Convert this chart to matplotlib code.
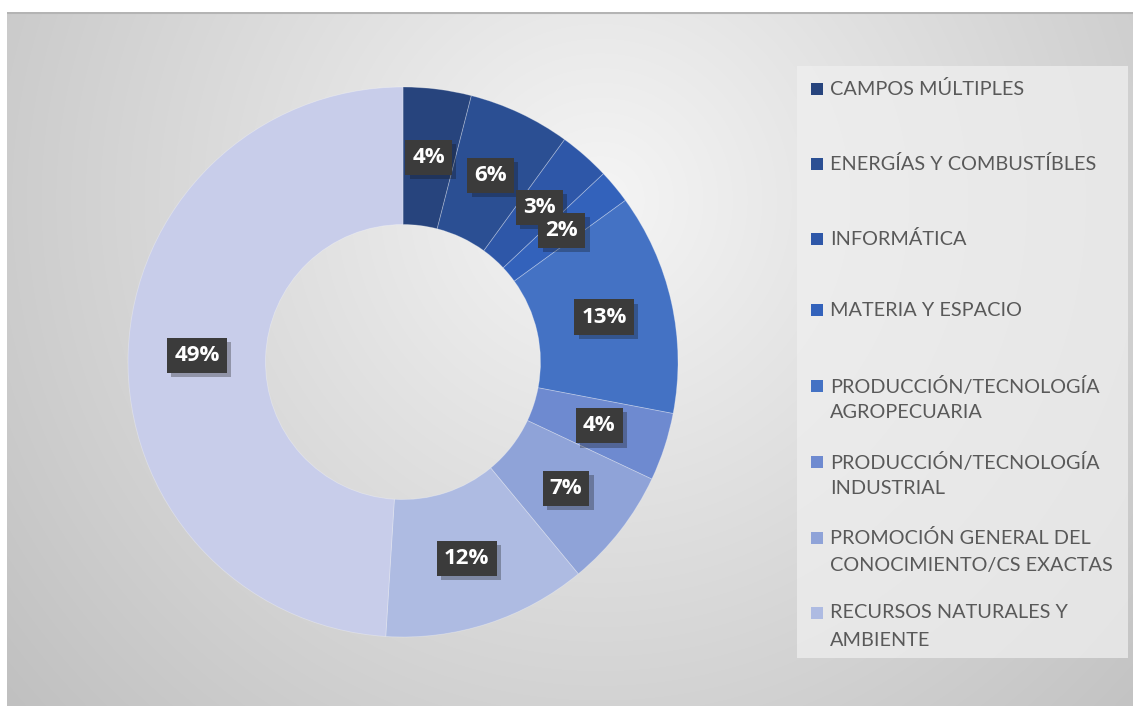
import numpy as np
import matplotlib
matplotlib.use("Agg")
import matplotlib.pyplot as plt
import matplotlib.patheffects as pe
from matplotlib.patches import Rectangle

# datos del gráfico
categorias = [
    "CAMPOS MÚLTIPLES",
    "ENERGÍAS Y COMBUSTÍBLES",
    "INFORMÁTICA",
    "MATERIA Y ESPACIO",
    "PRODUCCIÓN/TECNOLOGÍA\nAGROPECUARIA",
    "PRODUCCIÓN/TECNOLOGÍA\nINDUSTRIAL",
    "PROMOCIÓN GENERAL DEL\nCONOCIMIENTO/CS EXACTAS",
    "RECURSOS NATURALES Y\nAMBIENTE",
]
# la torta tiene 9 porciones (la leyenda original muestra solo 8)
porcentajes = [4, 6, 3, 2, 13, 4, 7, 12, 49]
colores = ["#27447d", "#2b4f93", "#2e57a8", "#3362bb", "#4472c4",
           "#6e8ad0", "#8fa3d8", "#aebbe2", "#c8cdea"]

W, H = 1133, 706
fig = plt.figure(figsize=(W / 100, H / 100), dpi=100)
fig.patch.set_facecolor("white")

# fondo con degradado radial
bg = fig.add_axes([7 / W, 0, (W - 7) / W, (H - 12) / H])
xx, yy = np.meshgrid(np.arange(7, W), np.arange(12, H))
d = np.sqrt((xx - 600) ** 2 + (yy - 200) ** 2)
g = np.clip(245 - 0.068 * d, 150, 250) / 255.0
bg.imshow(np.dstack([g, g, g]), aspect="auto", extent=(0, 1, 0, 1), origin="upper")
bg.plot([0, 1], [0.999, 0.999], color="#b4b4b4", lw=1.5, transform=bg.transAxes)
bg.set_axis_off()

# anillo
cx, cy, r = 403, 362, 275
ax = fig.add_axes([(cx - r) / W, (H - cy - r) / H, 2 * r / W, 2 * r / H])
wedges, texts, autotexts = ax.pie(
    porcentajes, colors=colores, startangle=90, counterclock=False,
    radius=1, pctdistance=0.75, autopct="%1.0f%%",
    wedgeprops=dict(width=0.5, edgecolor=(1, 1, 1, 0.3), linewidth=0.6),
)
for t in autotexts:
    t.set_color("white")
    t.set_fontsize(16)
    t.set_fontweight("bold")
    t.set_family("Open Sans")
    t.set_bbox(dict(boxstyle="square,pad=0.32", facecolor="#3b3b3b", edgecolor="none"))
    t.get_bbox_patch().set_path_effects(
        [pe.SimplePatchShadow(offset=(3, -3), alpha=0.3), pe.Normal()])
ax.set_xlim(-1, 1)
ax.set_ylim(-1, 1)
ax.set_axis_off()

# leyenda
fig.patches.append(Rectangle((797 / W, (H - 658) / H), (1128 - 797) / W, (658 - 66) / H,
                             transform=fig.transFigure, facecolor="#efefef",
                             edgecolor="none", alpha=0.75, zorder=1))
filas = [89, 164, 239, 310, 386, 462, 538, 613]
for i, cat in enumerate(categorias):
    y = filas[i]
    fig.patches.append(Rectangle((811 / W, (H - y - 6) / H), 12 / W, 12 / H,
                                 transform=fig.transFigure,
                                 facecolor=colores[i], edgecolor="none", zorder=2))
    for j, linea in enumerate(cat.split("\n")):
        fig.text(830 / W, (H - y - 27 * j) / H, linea, ha="left", va="center",
                 fontsize=14.3, color="#595959", family="Lato", zorder=3)

fig.savefig("out.png", dpi=100, facecolor=fig.get_facecolor())
